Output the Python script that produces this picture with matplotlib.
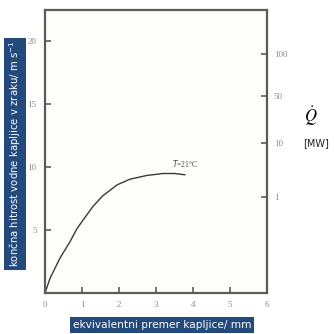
import matplotlib
matplotlib.use("Agg")
import matplotlib.pyplot as plt

# Data
diameter_mm = [0, 0.14, 0.41, 0.68, 0.86, 1.14, 1.3, 1.57, 1.95, 2.3, 2.76, 3.19, 3.5, 3.78]
velocity_ms = [0, 1.2, 2.8, 4.1, 5.1, 6.25, 6.9, 7.75, 8.6, 9.05, 9.35, 9.5, 9.5, 9.4]

x_ticks = [0, 1, 2, 3, 4, 5, 6]
y_ticks = [5, 10, 15, 20]
q_tick_pos = [19.0, 15.7, 11.9, 7.6]
q_tick_labels = ["100", "50", "10", "1"]

W = H = 334
fig = plt.figure(figsize=(W / 100, H / 100), dpi=100)
fig.patch.set_facecolor("white")

left, right, top, bottom = 45, 267, 10, 293
ax = fig.add_axes([left / W, (H - bottom) / H, (right - left) / W, (bottom - top) / H])
ax.set_facecolor("#fdfdfb")

frame_col = "#5a5d55"
for s in ax.spines.values():
    s.set_color(frame_col)
    s.set_linewidth(1.6)

ax.plot(diameter_mm, velocity_ms, color="#3a3a3a", lw=1.0)
ax.set_xlim(0, 6)
ax.set_ylim(0, 22.5)

tick_font = dict(family="Liberation Serif", size=6.5, color="#8a8a8a")
ax.set_xticks(x_ticks)
ax.set_xticklabels([str(t) for t in x_ticks], **tick_font)
ax.set_yticks(y_ticks)
ax.set_yticklabels([str(t) for t in y_ticks], **tick_font)
ax.tick_params(direction="in", length=4, width=1.2, color=frame_col, pad=6)

ax2 = ax.twinx()
ax2.set_ylim(0, 22.5)
ax2.set_yticks(q_tick_pos)
ax2.set_yticklabels(q_tick_labels, **tick_font)
ax2.tick_params(direction="in", length=4, width=1.2, color=frame_col, pad=5)
for s in ax2.spines.values():
    s.set_visible(False)

ax.text(3.42, 10.0, r"$T$=21°C", family="Liberation Serif", fontsize=5.5, color="#444444")

box_col = "#234a7c"
fig.text(15 / W, (H - 154) / H, "končna hitrost vodne kapljice v zraku/ m s$^{-1}$",
         rotation=90, ha="center", va="center", color="white", fontsize=7.3,
         family="DejaVu Sans",
         bbox=dict(boxstyle="square,pad=0.3", fc=box_col, ec="none"))
fig.text(162 / W, (H - 325) / H, "ekvivalentni premer kapljice/ mm",
         ha="center", va="center", color="white", fontsize=7.6,
         family="DejaVu Sans",
         bbox=dict(boxstyle="square,pad=0.3", fc=box_col, ec="none"))

fig.text(311 / W, (H - 116) / H, r"$\dot{Q}$", ha="center", va="center",
         fontsize=12, color="black", math_fontfamily="stix")
fig.text(316 / W, (H - 143) / H, "[MW]", ha="center", va="center",
         fontsize=7, color="#222222", family="DejaVu Sans")

fig.savefig("out.png", dpi=100)
